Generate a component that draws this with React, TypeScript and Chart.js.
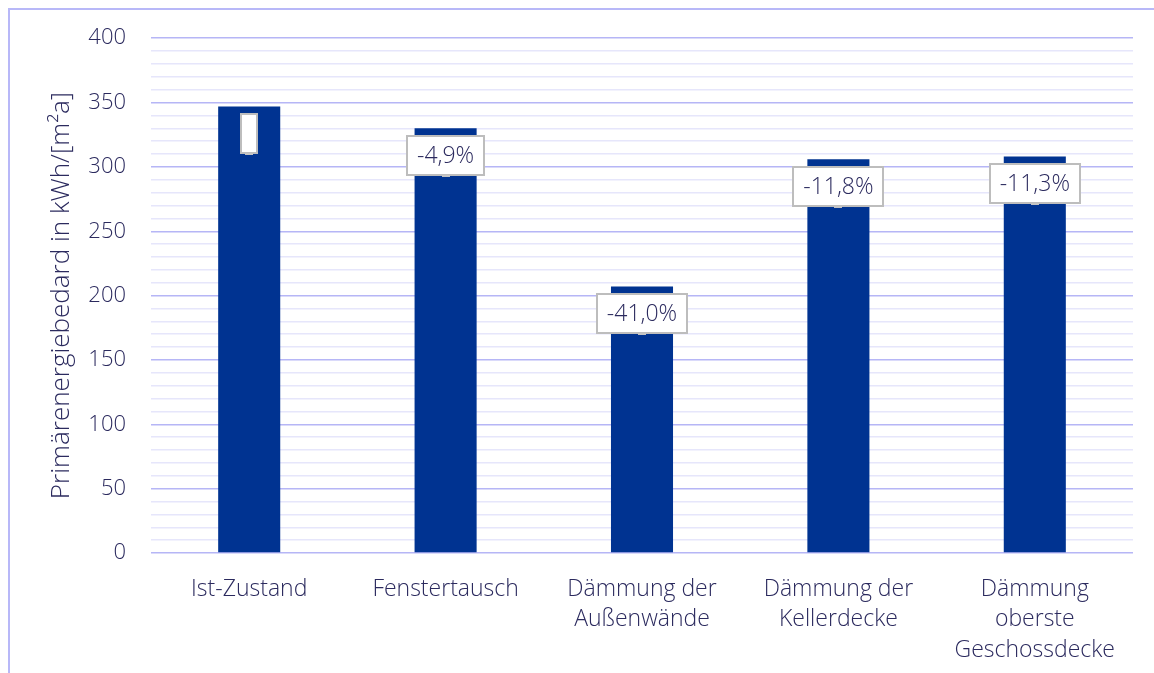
import React, { useEffect, useRef } from "react";
import { Chart, registerables } from "chart.js";

Chart.register(...registerables);

const categories: string[][] = [
  ["Ist-Zustand"],
  ["Fenstertausch"],
  ["Dämmung der", "Außenwände"],
  ["Dämmung der", "Kellerdecke"],
  ["Dämmung", "oberste", "Geschossdecke"],
];
const values: number[] = [347, 330, 207, 306, 308];
const changeLabels: string[] = ["", "-4,9%", "-41,0%", "-11,8%", "-11,3%"];
const yTitle = "Primärenergiebedard in kWh/[m²a]";

const W = 1154;
const H = 673;
const FONT = "'Open Sans', 'Noto Sans', sans-serif";
const TEXT = "#2b2a5e";
const BAR = "#003391";
const MAJOR = "#b6b6f6";
const MINOR = "#e6e6fb";
const FRAME = "#b8b8f8";

const framePlugin = {
  id: "frame",
  beforeDraw(chart: any) {
    const ctx = chart.ctx;
    ctx.save();
    ctx.fillStyle = "#ffffff";
    ctx.fillRect(0, 0, chart.width, chart.height);
    ctx.strokeStyle = FRAME;
    ctx.lineWidth = 2;
    ctx.beginPath();
    ctx.moveTo(9, chart.height + 5);
    ctx.lineTo(9, 9);
    ctx.lineTo(chart.width + 5, 9);
    ctx.stroke();
    ctx.restore();
  },
};

const labelPlugin = {
  id: "boxLabels",
  afterDatasetsDraw(chart: any) {
    const ctx = chart.ctx;
    const meta = chart.getDatasetMeta(0);
    ctx.save();
    ctx.font = `300 23px ${FONT}`;
    ctx.textAlign = "center";
    ctx.textBaseline = "middle";
    meta.data.forEach((bar: any, i: number) => {
      const text = changeLabels[i] ?? "";
      const tw = ctx.measureText(text).width;
      const bw = Math.round(text ? tw + 20 : 16);
      const bh = 39;
      const cx = bar.x;
      const cy = bar.y + 27;
      const x0 = Math.round(cx - bw / 2);
      const y0 = Math.round(cy - bh / 2);
      ctx.fillStyle = "#ffffff";
      ctx.fillRect(x0, y0, bw, bh);
      ctx.strokeStyle = "#bdbdbd";
      ctx.lineWidth = 2;
      ctx.strokeRect(x0, y0, bw, bh);
      ctx.fillStyle = "#c4c4c4";
      ctx.fillRect(Math.round(cx - 4), y0 + bh, 8, 2);
      if (text) {
        ctx.fillStyle = TEXT;
        ctx.fillText(text, cx, cy + 1);
      }
    });
    ctx.restore();
  },
};

export default function App() {
  const ref = useRef<HTMLCanvasElement | null>(null);

  useEffect(() => {
    document.body.style.margin = "0";
    const canvas = ref.current;
    if (!canvas) return;
    const chart = new Chart(canvas, {
      type: "bar",
      data: {
        labels: categories,
        datasets: [
          {
            data: values,
            backgroundColor: BAR,
            borderWidth: 0,
            barPercentage: 0.316,
            categoryPercentage: 1,
          },
        ],
      },
      options: {
        responsive: false,
        animation: false,
        devicePixelRatio: 1,
        layout: { padding: { left: 0, right: 21, top: 37, bottom: 0 } },
        plugins: {
          legend: { display: false },
          tooltip: { enabled: false },
        },
        scales: {
          x: {
            grid: { display: false, drawTicks: false },
            border: { display: false },
            ticks: {
              color: TEXT,
              font: { family: FONT, size: 23, weight: "300", lineHeight: 1.33 },
              padding: 21,
              maxRotation: 0,
              autoSkip: false,
            },
            afterFit(scale: any) {
              scale.height = 120;
            },
          },
          y: {
            min: 0,
            max: 400,
            border: { display: false },
            grid: {
              drawTicks: false,
              lineWidth: 1.5,
              color: (c: any) =>
                c.tick && c.tick.value % 50 === 0 ? MAJOR : MINOR,
            },
            ticks: {
              stepSize: 10,
              autoSkip: false,
              padding: 25,
              color: TEXT,
              font: { family: FONT, size: 22, weight: "300" },
              callback: (v: any) => (Number(v) % 50 === 0 ? String(v) : ""),
            },
            title: {
              display: true,
              text: yTitle,
              color: TEXT,
              font: { family: FONT, size: 26, weight: "300", lineHeight: 1.2 },
              padding: { top: 46, bottom: 0 },
            },
            afterFit(scale: any) {
              scale.width = 151;
            },
          },
        },
      },
      plugins: [framePlugin, labelPlugin],
    });
    return () => chart.destroy();
  }, []);

  return (
    <div style={{ width: W, height: H }}>
      <canvas ref={ref} width={W} height={H} style={{ display: "block" }} />
    </div>
  );
}
